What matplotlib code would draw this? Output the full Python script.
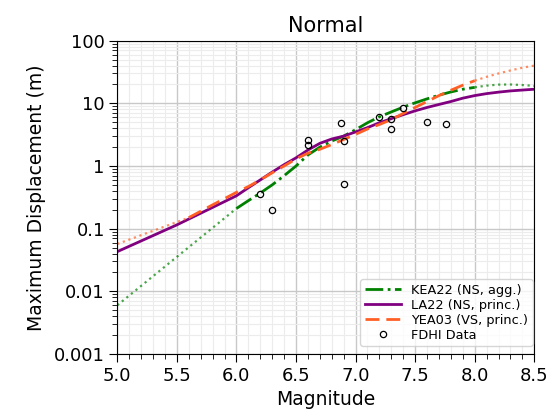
import numpy as np
import matplotlib
matplotlib.use('Agg')
import matplotlib.pyplot as plt
from matplotlib.ticker import FixedLocator, MultipleLocator, NullFormatter, FormatStrFormatter

# KEA22 (NS, agg.)
kea_m_lo = [5.0, 6.0]
kea_d_lo = [0.006, 0.21]
kea_m = [6.0, 6.1, 6.2, 6.3, 6.4, 6.5, 6.6, 6.7, 6.8, 6.9, 7.0, 7.1, 7.2, 7.3, 7.4, 7.5, 7.6, 7.7, 7.8, 7.9, 8.0]
kea_d = [0.21, 0.28, 0.37, 0.5, 0.7, 1.0, 1.5, 2.0, 2.5, 3.0, 3.8, 4.9, 6.1, 7.3, 8.7, 10.2, 11.8, 13.5, 15.2, 16.8, 18.0]
kea_m_hi = [8.0, 8.1, 8.2, 8.3, 8.4, 8.5]
kea_d_hi = [18.0, 19.2, 19.9, 20.0, 19.6, 19.0]

# LA22 (NS, princ.)
la_m = [5.0, 5.5, 6.0, 6.1, 6.2, 6.3, 6.4, 6.5, 6.6, 6.7, 6.8, 6.9, 7.0, 7.1, 7.2, 7.3, 7.4,
        7.5, 7.6, 7.7, 7.8, 7.9, 8.0, 8.1, 8.2, 8.3, 8.4, 8.5]
la_d = [0.043, 0.115, 0.335, 0.45, 0.6, 0.8, 1.05, 1.35, 1.8, 2.3, 2.7, 3.0, 3.5, 4.1, 4.9, 5.7, 6.6,
        7.6, 8.6, 9.6, 10.7, 12.1, 13.3, 14.3, 15.1, 15.8, 16.3, 16.8]

# YEA03 (VS, princ.)
yea_m_lo = [5.0, 5.6]
yea_d_lo = [0.057, 0.15]
yea_m = [5.6, 5.8, 6.0, 6.1, 6.2, 6.3, 6.4, 6.5, 6.6, 6.7, 6.8, 6.9, 7.0, 7.1, 7.2, 7.3, 7.4,
         7.5, 7.6, 7.7, 7.8, 7.9, 8.0]
yea_d = [0.15, 0.24, 0.38, 0.47, 0.6, 0.78, 1.0, 1.3, 1.6, 1.85, 2.2, 2.65, 3.2, 3.9, 4.6, 5.5, 6.9,
         8.6, 10.7, 13.3, 16.2, 19.5, 23.0]
yea_m_hi = [8.0, 8.1, 8.2, 8.3, 8.4, 8.5]
yea_d_hi = [23.0, 26.5, 30.0, 33.5, 37.0, 40.0]

# FDHI data
fdhi_m = [6.2, 6.3, 6.6, 6.6, 6.88, 6.9, 6.9, 7.2, 7.3, 7.3, 7.4, 7.6, 7.76]
fdhi_d = [0.36, 0.2, 2.6, 2.17, 4.8, 2.54, 0.52, 6.0, 5.64, 3.9, 8.3, 5.0, 4.6]

ytick_vals = [0.001, 0.01, 0.1, 1, 10, 100]
ytick_labels = ['0.001', '0.01', '0.1', '1', '10', '100']

green = '#008000'
purple = '#800080'
orange = '#ff5f25'

fig = plt.figure(figsize=(5.59, 4.16), dpi=100)
ax = fig.add_axes([0.2098, 0.149, 0.746, 0.7532])

ax.plot(kea_m_lo, kea_d_lo, color=green, ls=':', lw=1.6, alpha=0.7)
ax.plot(kea_m, kea_d, color=green, ls='-.', lw=2.0, label='KEA22 (NS, agg.)')
ax.plot(kea_m_hi, kea_d_hi, color=green, ls=':', lw=1.6, alpha=0.7)

ax.plot(la_m, la_d, color=purple, ls='-', lw=2.0, label='LA22 (NS, princ.)')

ax.plot(yea_m_lo, yea_d_lo, color=orange, ls=':', lw=1.6, alpha=0.7)
ax.plot(yea_m, yea_d, color=orange, ls='--', lw=2.0, dashes=(5, 2.5), label='YEA03 (VS, princ.)')
ax.plot(yea_m_hi, yea_d_hi, color=orange, ls=':', lw=1.6, alpha=0.7)

ax.plot(fdhi_m, fdhi_d, ls='none', marker='o', ms=4.5, mfc='none', mec='black', mew=0.9,
        label='FDHI Data')

ax.set_yscale('log')
ax.set_xlim(5.0, 8.5)
ax.set_ylim(0.001, 100)
ax.yaxis.set_major_locator(FixedLocator(ytick_vals))
ax.set_yticklabels(ytick_labels)
ax.yaxis.set_minor_formatter(NullFormatter())
ax.xaxis.set_major_locator(MultipleLocator(0.5))
ax.xaxis.set_minor_locator(MultipleLocator(0.1))
ax.xaxis.set_major_formatter(FormatStrFormatter('%.1f'))

ax.grid(which='major', color='#c8c8c8', lw=1.0)
ax.grid(which='minor', color='#ececec', lw=0.8)
ax.set_axisbelow(True)
ax.tick_params(which='major', labelsize=13, length=5.5)
ax.tick_params(which='minor', length=3.5)

ax.set_xlabel('Magnitude', fontsize=13.5)
ax.set_ylabel('Maximum Displacement (m)', fontsize=13.5, labelpad=6)
ax.set_title('Normal', fontsize=15)
ax.legend(loc='lower right', bbox_to_anchor=(0.996, 0.0255), borderaxespad=0,
          fontsize=9.3, labelspacing=0.15, handlelength=2.8, borderpad=0.35)

fig.savefig('out.png', dpi=100)
